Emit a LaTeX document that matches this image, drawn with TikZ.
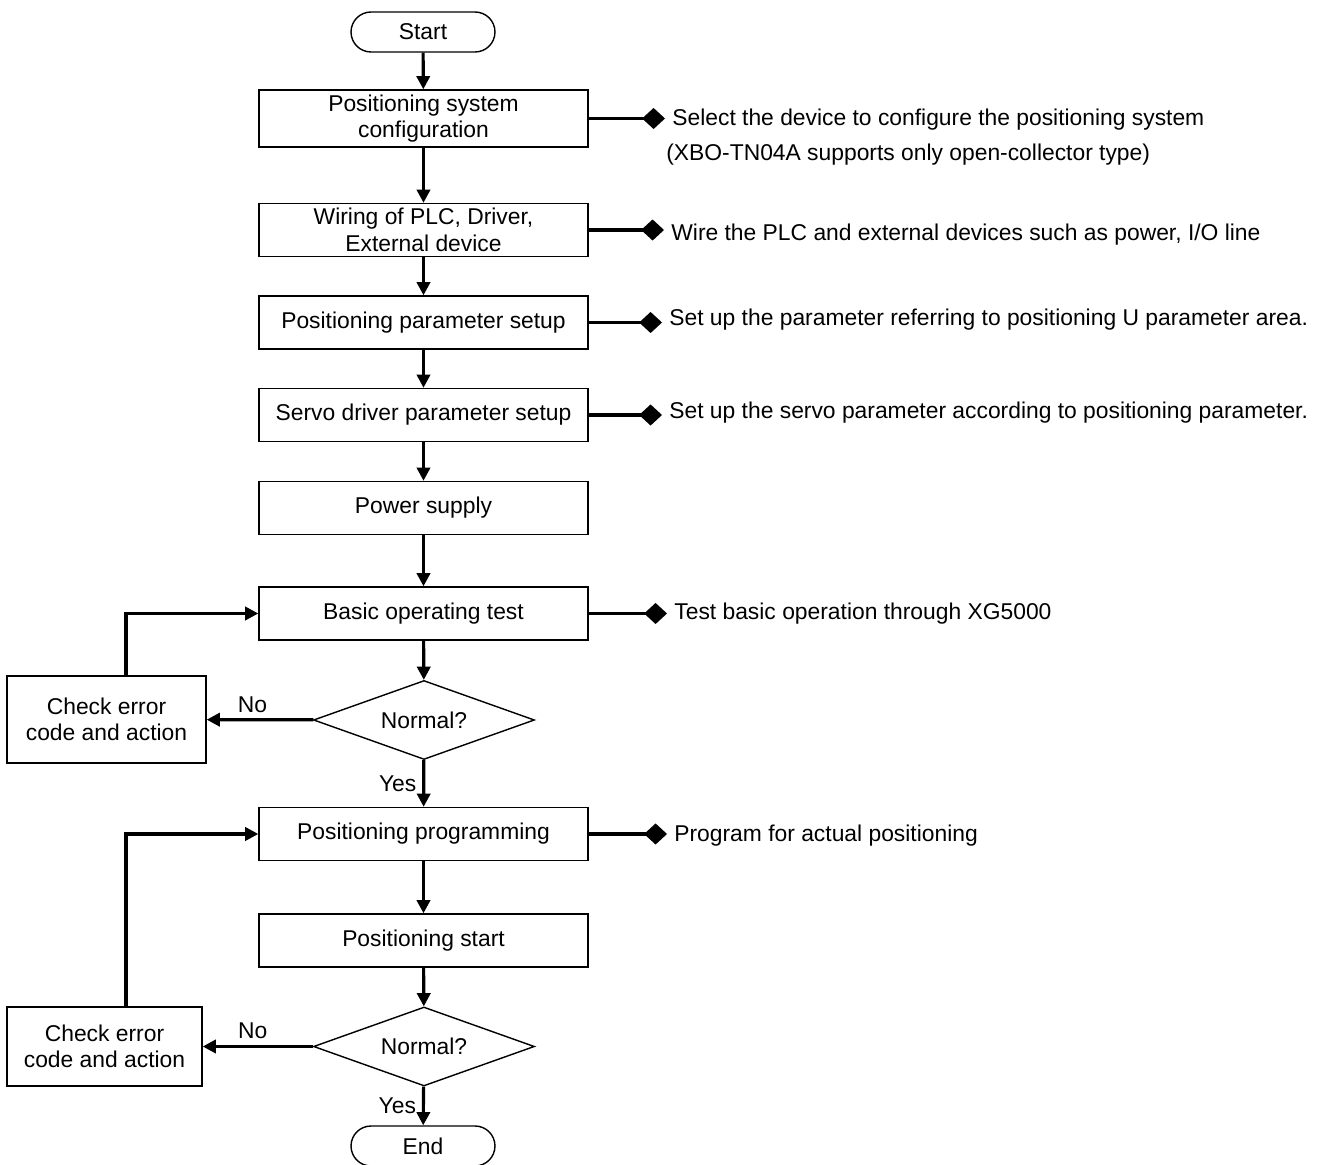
\documentclass[tikz,border=0pt]{standalone}
\usepackage{fontspec}
\setmainfont{Liberation Sans}
\usetikzlibrary{shapes.geometric,arrows.meta}

\begin{document}
\begin{tikzpicture}[x=0.02cm, y=-0.02cm, font=\fontsize{13}{15}\selectfont,
    box/.style={draw, line width=0.8pt, minimum width=6.58cm, minimum height=1.06cm, align=center, inner sep=1pt},
    term/.style={draw, line width=0.8pt, rounded corners=0.4cm, minimum width=2.88cm, minimum height=0.8cm},
    decision/.style={diamond, draw, line width=0.8pt, aspect=2.8, minimum width=4.42cm, minimum height=1.58cm, inner sep=0pt},
    check/.style={draw, line width=0.8pt, align=center},
    flow/.style={line width=1.8pt, -{Triangle[length=7.5pt,width=7.5pt]}},
    note/.style={line width=1.8pt, -{Diamond[length=13pt,width=12pt]}},
    txt/.style={anchor=west, inner sep=4pt}]
    \useasboundingbox (0,0) rectangle (1323,1165);

    % main column
    \node[term] (start) at (423,32) {Start};
    \node[box, minimum height=1.14cm] (conf) at (423.5,118.5) {Positioning system\\configuration};
    \node[box] (wire) at (423.5,230) {Wiring of PLC, Driver,\\External device};
    \node[box] (ppar) at (423.5,322.5) {Positioning parameter setup};
    \node[box] (spar) at (423.5,415) {Servo driver parameter setup};
    \node[box] (power) at (423.5,508) {Power supply};
    \node[box] (basic) at (423.5,613.5) {Basic operating test};
    \node[decision] (ok1) at (424,720) {Normal?};
    \node[box] (prog) at (423.5,834) {Positioning programming};
    \node[box] (pstart) at (423.5,940.5) {Positioning start};
    \node[decision] (ok2) at (424,1046.5) {Normal?};
    \node[term] (end) at (423,1146) {End};

    % error boxes
    \node[check, minimum width=3.98cm, minimum height=1.74cm] (err1) at (106.5,719.5) {Check error\\code and action};
    \node[check, minimum width=3.9cm, minimum height=1.58cm] (err2) at (104.5,1046.5) {Check error\\code and action};

    % notes
    \node[txt] (n1) at (665,120) {Select the device to configure the positioning system};
    \node[txt, anchor=west] (n1b) at (659,155) {(XBO-TN04A supports only open-collector type)};
    \node[txt] (n2) at (664,235) {Wire the PLC and external devices such as power, I/O line};
    \node[txt] (n3) at (662,320) {Set up the parameter referring to positioning U parameter area.};
    \node[txt] (n4) at (662,413) {Set up the servo parameter according to positioning parameter.};
    \node[txt] (n6) at (667,614) {Test basic operation through XG5000};
    \node[txt] (n7) at (667,836) {Program for actual positioning};

    \draw[flow] (start) -- (conf);
    \draw[flow] (conf) -- (wire);
    \draw[flow] (wire) -- (ppar);
    \draw[flow] (ppar) -- (spar);
    \draw[flow] (spar) -- (power);
    \draw[flow] (power) -- (basic);
    \draw[flow] (basic) -- (ok1);
    \draw[flow] (ok1) -- node[left] {Yes} (prog);
    \draw[flow] (ok1) -- node[above, xshift=-0.15cm] {No} (err1);
    \draw[flow] ([xshift=0.39cm]err1.north) |- (basic.west);
    \draw[flow] (prog) -- (pstart);
    \draw[flow] (pstart) -- (ok2);
    \draw[flow] (ok2) -- node[left] {Yes} (end);
    \draw[flow] (ok2) -- node[above, xshift=-0.1cm] {No} (err2);
    \draw[flow] ([xshift=0.43cm]err2.north) |- (prog.west);

    \draw[note] (conf.east) -- (conf.east -| n1.west);
    \draw[note] (wire.east) -- (wire.east -| n2.west);
    \draw[note] (ppar.east) -- (ppar.east -| n3.west);
    \draw[note] (spar.east) -- (spar.east -| n4.west);
    \draw[note] (basic.east) -- (basic.east -| n6.west);
    \draw[note] (prog.east) -- (prog.east -| n7.west);
\end{tikzpicture}
\end{document}
